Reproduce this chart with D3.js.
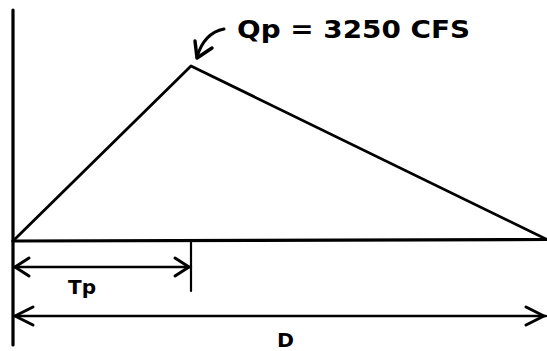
<!DOCTYPE html>
<html><head><meta charset="utf-8">
<script src="https://cdn.jsdelivr.net/npm/d3@7"></script>
<style>body{margin:0;background:#fff}svg{display:block}</style>
</head><body>
<script>
// Triangular unit hydrograph: time (in units of Tp) vs. discharge (cfs)
const times = [0, 1, 3];          // start, time to peak Tp, duration D
const flows = [0, 3250, 0];       // cfs
const peakLabel = "Qp = 3250  CFS";
const tpLabel = "Tp";
const dLabel = "D";

const W = 547, H = 351;
const svg = d3.select("body").append("svg").attr("width", W).attr("height", H);

const x = d3.scaleLinear().domain([0, 3]).range([13, 547]);
const y = d3.scaleLinear().domain([0, 3250]).range([241, 66]);

const ink = "#000";
const g = svg.append("g").attr("fill", "none").attr("stroke", ink)
  .attr("stroke-linecap", "round").attr("stroke-linejoin", "round");

// vertical (discharge) axis
g.append("line").attr("x1", x(0)).attr("x2", x(0))
  .attr("y1", y(4290)).attr("y2", 345).attr("stroke-width", 3.2);
// baseline (time axis)
g.append("line").attr("x1", x(0)).attr("x2", x(3))
  .attr("y1", y(0)).attr("y2", y(0) - 1.5).attr("stroke-width", 3.2);

// hydrograph
g.append("path").datum(flows).attr("d", (d) => {
  const pts = d.map((v, i) => [x(times[i]), y(v)]);
  pts[2][1] -= 1.5;
  return d3.line()(pts);
}).attr("stroke-width", 2.8);

// Tp tick
g.append("line").attr("x1", x(times[1])).attr("x2", x(times[1]))
  .attr("y1", y(0)).attr("y2", 291).attr("stroke-width", 2.2);

function dim(x0, x1, yy, a) {
  g.append("line").attr("x1", x0).attr("x2", x1).attr("y1", yy).attr("y2", yy).attr("stroke-width", 2.4);
  g.append("path").attr("d", `M${x0 + a},${yy - 9} L${x0 + 2},${yy} L${x0 + a},${yy + 9}`).attr("stroke-width", 3);
  g.append("path").attr("d", `M${x1 - a},${yy - 9} L${x1 - 2},${yy} L${x1 - a},${yy + 9}`).attr("stroke-width", 3);
}
dim(x(0), x(times[1]), 267, 16);
dim(x(0), x(times[2]) - 1, 316, 20);

// callout arrow to peak
g.append("path").attr("d", "M224,29 Q204,33 197,57").attr("stroke-width", 3);
g.append("path").attr("d", "M195,41 L197,58 L212,48").attr("stroke-width", 3.4);

// labels
const t = svg.append("g").attr("fill", ink).attr("font-family", "DejaVu Sans").attr("font-weight", "bold");
t.append("text").attr("x", 237).attr("y", 38).attr("font-size", 25)
  .attr("textLength", 233).attr("lengthAdjust", "spacingAndGlyphs").text(peakLabel);
t.append("text").attr("x", 68).attr("y", 294).attr("font-size", 20)
  .attr("textLength", 28).attr("lengthAdjust", "spacingAndGlyphs").text(tpLabel);
t.append("text").attr("x", 277).attr("y", 347).attr("font-size", 19)
  .attr("textLength", 17).attr("lengthAdjust", "spacingAndGlyphs").text(dLabel);
</script>
</body></html>
